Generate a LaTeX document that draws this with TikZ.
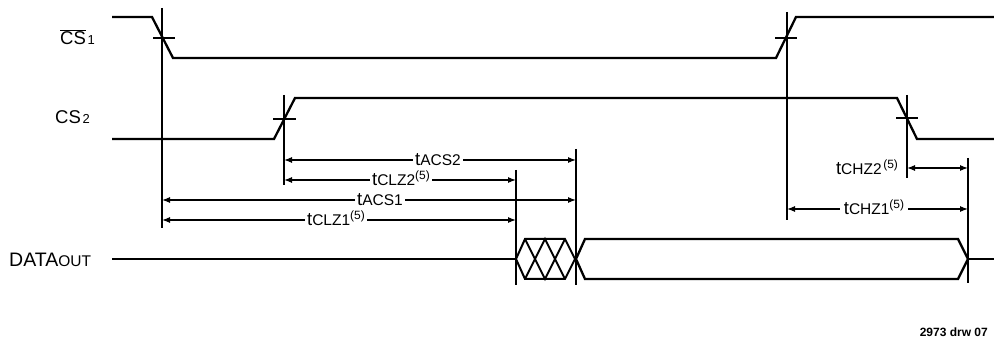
\documentclass[tikz,border=0pt]{standalone}
\usepackage{fontspec}
\setmainfont{Liberation Sans}
\usetikzlibrary{arrows.meta}
\newcommand\tlab[1]{{\fontsize{18.5}{18.5}\selectfont t}{\fontsize{15.5}{15.5}\selectfont #1}}
\newcommand\fivesup{\raisebox{6.5pt}{\fontsize{12}{12}\selectfont(5)}}
\tikzset{
  sig/.style={line width=2.3pt, line join=miter},
  tick/.style={line width=1.6pt},
  vline/.style={line width=1.5pt},
  dim/.style={line width=1.1pt, {Latex[length=8pt,width=6pt]}-{Latex[length=8pt,width=6pt]}},
  dimlab/.style={anchor=base, fill=white, inner sep=2pt, outer sep=0pt},
  siglab/.style={anchor=base west, inner sep=0pt},
  hatch/.style={line width=2pt, line join=miter}
}
\begin{document}
\begin{tikzpicture}[x=1pt,y=-1pt]
\useasboundingbox (0,0) rectangle (994,344);
% labels
\node[siglab] (lcs1) at (60,45) {{\fontsize{18.5}{18.5}\selectfont$\overline{\hbox{CS}}$}\,{\fontsize{13}{13}\selectfont 1}};
\node[siglab] (lcs2) at (55,124) {{\fontsize{18.5}{18.5}\selectfont CS}\,{\fontsize{13}{13}\selectfont 2}};
\node[siglab] (ldata) at (9,267) {{\fontsize{19.5}{19.5}\selectfont DATA}{\fontsize{15.5}{15.5}\selectfont OUT}};
\node[anchor=base east, inner sep=0pt] (ldrw) at (988,337) {\fontsize{12}{12}\selectfont\bfseries 2973 drw 07};
% CS1
\draw[sig] (112,17) -- (152,17) -- (173,58) -- (776,58) -- (796,17) -- (994,17);
\draw[tick] (153,38) -- (175,38);
\draw[tick] (775,38) -- (797,38);
% CS2
\draw[sig] (112,139) -- (274,139) -- (295,98) -- (897,98) -- (917,139) -- (994,139);
\draw[tick] (273,119) -- (296,119);
\draw[tick] (896,118) -- (918,118);
% DATA OUT
\draw[sig] (112,259) -- (516,259);
\draw[hatch] (516,259) -- (525,239) -- (565,239) -- (575,259) -- (565,279) -- (525,279) -- cycle;
\draw[hatch] (525,239) -- (545,279) -- (565,239);
\draw[hatch] (525,279) -- (545,239) -- (565,279);
\draw[sig] (576,259) -- (585,239) -- (958,239) -- (968,259) -- (958,279) -- (585,279) -- cycle;
\draw[sig] (968,259) -- (994,259);
% vertical reference lines
\coordinate (a1) at (162,8);   \coordinate (a2) at (162,228);
\coordinate (b1) at (284,95);  \coordinate (b2) at (284,185);
\coordinate (c1) at (516,170); \coordinate (c2) at (516,285);
\coordinate (d1) at (576,149); \coordinate (d2) at (576,285);
\coordinate (e1) at (787,12);  \coordinate (e2) at (787,220);
\coordinate (f1) at (907,95);  \coordinate (f2) at (907,178);
\coordinate (g1) at (968,158); \coordinate (g2) at (968,283);
\foreach \p in {a,b,c,d,e,f,g} \draw[vline] (\p1) -- (\p2);
% dimension arrows
\coordinate (acs2l) at (284,160); \coordinate (acs2r) at (576,160);
\coordinate (clz2l) at (284,180); \coordinate (clz2r) at (516,180);
\coordinate (acs1l) at (162,200); \coordinate (acs1r) at (576,200);
\coordinate (clz1l) at (162,220); \coordinate (clz1r) at (516,220);
\coordinate (chz2l) at (907,168); \coordinate (chz2r) at (968,168);
\coordinate (chz1l) at (787,209); \coordinate (chz1r) at (968,209);
\draw[dim] (acs2l) -- (acs2r);
\draw[dim] (clz2l) -- (clz2r);
\draw[dim] (acs1l) -- (acs1r);
\draw[dim] (clz1l) -- (clz1r);
\draw[dim] (chz2l) -- (chz2r);
\draw[dim] (chz1l) -- (chz1r);
\node[dimlab] (tacs2) at (438,166) {\tlab{ACS2}};
\node[dimlab] (tclz2) at (401,186) {\tlab{CLZ2}\fivesup};
\node[dimlab] (tacs1) at (380,206) {\tlab{ACS1}};
\node[dimlab] (tclz1) at (336,226) {\tlab{CLZ1}\fivesup};
\node[dimlab] (tchz2) at (867,175) {\tlab{CHZ2}\,\fivesup};
\node[dimlab,inner sep=4pt] (tchz1) at (874,215) {\tlab{CHZ1}\fivesup};
\end{tikzpicture}
\end{document}
